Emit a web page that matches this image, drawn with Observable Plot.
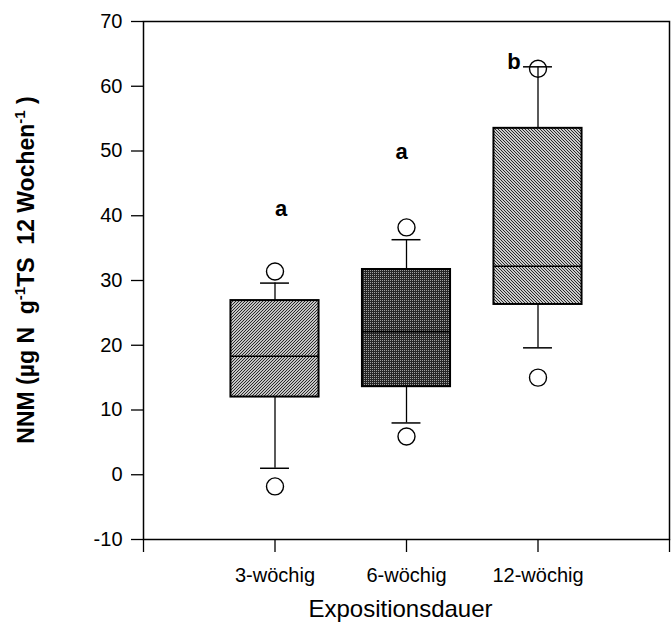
<!DOCTYPE html>
<html>
<head>
<meta charset="utf-8">
<script src="https://cdn.jsdelivr.net/npm/d3@7"></script>
<script src="https://cdn.jsdelivr.net/npm/@observablehq/plot@0.6"></script>
<style>
  html, body { margin: 0; padding: 0; background: white; }
  svg { display: block; }
</style>
</head>
<body>
<div id="chart"></div>
<script>
// ---- data ----
const categories = ["3-wöchig", "6-wöchig", "12-wöchig"];
const lowerWhisker = [1.0, 8.0, 19.6];
const q1 = [12.0, 13.6, 26.3];
const median = [18.3, 22.1, 32.2];
const q3 = [26.9, 31.7, 53.5];
const upperWhisker = [29.6, 36.3, 63.0];
const outlierLow = [-1.8, 5.9, 15.0];
const outlierHigh = [31.4, 38.2, 62.7];
const letters = ["a", "a", "b"];
const letterY = [41.1, 49.8, 63.7];
const yTicks = [-10, 0, 10, 20, 30, 40, 50, 60, 70];
const xLabel = "Expositionsdauer";

// ---- styles ----
const patterns = ["url(#hatchFwd)", "url(#stipple)", "url(#hatchBack)"];
const letterDx = [6, -5, -24];
const boxHalf = 0.335;
const capHalf = 0.11;
const font = "'Liberation Sans', Arial, Helvetica, sans-serif";

const boxes = categories.map((c, i) => ({
  x: i + 1, name: c,
  lo: lowerWhisker[i], q1: q1[i], med: median[i], q3: q3[i], hi: upperWhisker[i],
  pat: patterns[i]
}));
const outliers = categories.flatMap((c, i) => [
  {x: i + 1, y: outlierLow[i]}, {x: i + 1, y: outlierHigh[i]}
]);
const letterData = categories.map((c, i) => ({x: i + 1, y: letterY[i], t: letters[i]}));

const svg = Plot.plot({
  width: 672,
  height: 631,
  marginLeft: 143,
  marginRight: 3,
  marginTop: 21,
  marginBottom: 92,
  style: {fontFamily: font, background: "white", color: "black"},
  x: {domain: [0, 4], axis: null},
  y: {domain: [-10, 70], axis: null},
  color: {type: "identity"},
  marks: [
    Plot.axisY({ticks: yTicks, tickFormat: d => `${d}`, tickSize: 12, tickPadding: 9, fontSize: 20, label: null, strokeWidth: 1.3}),
    Plot.axisX({ticks: [0, 1, 2, 3, 4], tickFormat: d => categories[d - 1] ?? "", tickSize: 13, tickPadding: 15, fontSize: 20, label: null, strokeWidth: 1.3}),
    Plot.frame({stroke: "black", strokeWidth: 1.5}),
    Plot.ruleX(boxes, {x: "x", y1: "q3", y2: "hi", stroke: "black", strokeWidth: 1.3}),
    Plot.ruleX(boxes, {x: "x", y1: "lo", y2: "q1", stroke: "black", strokeWidth: 1.3}),
    Plot.ruleY(boxes, {y: "hi", x1: d => d.x - capHalf, x2: d => d.x + capHalf, stroke: "black", strokeWidth: 1.5}),
    Plot.ruleY(boxes, {y: "lo", x1: d => d.x - capHalf, x2: d => d.x + capHalf, stroke: "black", strokeWidth: 1.5}),
    Plot.rect(boxes, {x1: d => d.x - boxHalf, x2: d => d.x + boxHalf, y1: "q1", y2: "q3", fill: "pat", stroke: "black", strokeWidth: 2}),
    Plot.ruleY(boxes, {y: "med", x1: d => d.x - boxHalf, x2: d => d.x + boxHalf, stroke: "black", strokeWidth: 1.6}),
    Plot.dot(outliers, {x: "x", y: "y", r: 8.5, stroke: "black", fill: "none", strokeWidth: 1.4}),
    Plot.text(letterData, {x: "x", y: "y", text: "t", fontSize: 22, fontWeight: "bold", fill: "black"}),
    Plot.text([xLabel], {frameAnchor: "bottom", text: d => d, dy: 77, dx: -6, fontSize: 24, fill: "black"})
  ]
});

const s = d3.select(svg);
const defs = s.insert("defs", ":first-child");
// forward hatch "/"
const p1 = defs.append("pattern").attr("id", "hatchFwd").attr("patternUnits", "userSpaceOnUse").attr("width", 3).attr("height", 3);
p1.append("rect").attr("width", 3).attr("height", 3).attr("fill", "#c4c4c4");
p1.append("path").attr("d", "M-1,1 L1,-1 M0,3 L3,0 M2,4 L4,2").attr("stroke", "#2a2a2a").attr("stroke-width", 1);
// stipple
const p2 = defs.append("pattern").attr("id", "stipple").attr("patternUnits", "userSpaceOnUse").attr("width", 2).attr("height", 2);
p2.append("rect").attr("width", 2).attr("height", 2).attr("fill", "#262626");
p2.append("rect").attr("width", 1).attr("height", 1).attr("fill", "#a0a0a0");
// backward hatch "\"
const p3 = defs.append("pattern").attr("id", "hatchBack").attr("patternUnits", "userSpaceOnUse").attr("width", 3).attr("height", 3);
p3.append("rect").attr("width", 3).attr("height", 3).attr("fill", "#cccccc");
p3.append("path").attr("d", "M-1,2 L1,4 M0,0 L3,3 M2,-1 L4,1").attr("stroke", "#2a2a2a").attr("stroke-width", 1);

// letter offsets (styling)
s.selectAll("g[aria-label='text'] text").filter((d, i, n) => n[i].textContent.length === 1)
  .each(function(d, i) { d3.select(this).attr("dx", letterDx[i] ?? 0); });

// rotated y-axis title with superscripts
const yt = s.append("text")
  .attr("transform", "translate(34,270) rotate(-90)")
  .attr("text-anchor", "middle")
  .attr("font-family", font)
  .attr("font-weight", "bold")
  .attr("font-size", 23)
  .attr("fill", "black");
yt.append("tspan").text("NNM (µg N  g");
yt.append("tspan").attr("font-size", 15).attr("dy", -9).text("-1");
yt.append("tspan").attr("dy", 9).text("TS  12 Wochen");
yt.append("tspan").attr("font-size", 15).attr("dy", -9).text("-1");
yt.append("tspan").attr("dy", 9).text(" )");

document.getElementById("chart").appendChild(svg);
</script>
</body>
</html>
